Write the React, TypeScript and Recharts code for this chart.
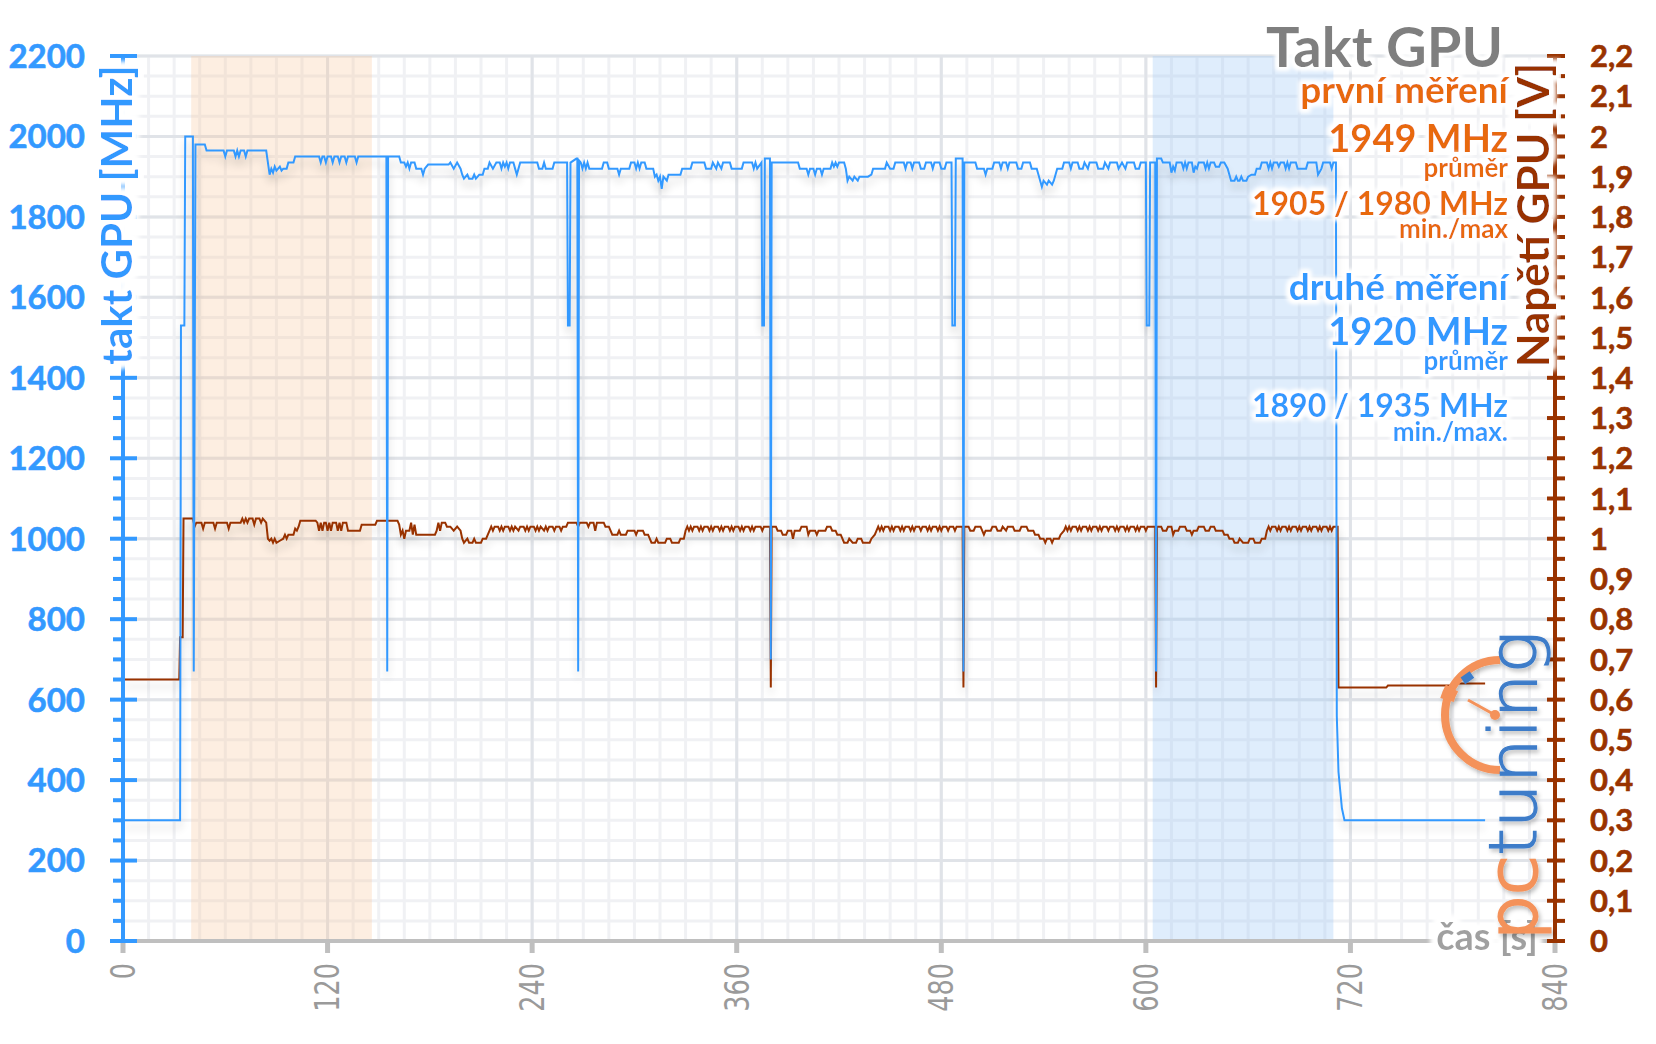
import React from 'react';
import { LineChart, Line, XAxis, YAxis, CartesianGrid, ReferenceArea } from 'recharts';

const W = 1656;
const H = 1044;
const BLUE = '#3399ff';
const BROWN = '#993300';
const ORANGE = '#e8690c';
const TITLE_GRAY = '#7f7f7f';
const AXIS_GRAY = '#bfbfbf';
const LABEL_GRAY = '#9a9a9a';
const FONT = "Lato, 'Open Sans', sans-serif";

// ---- axis ticks ----
const timeTicks = [0, 120, 240, 360, 480, 600, 720, 840];
const clockMajorTicks = [0, 200, 400, 600, 800, 1000, 1200, 1400, 1600, 1800, 2000, 2200];
const voltMajorTicks = [0, 0.1, 0.2, 0.3, 0.4, 0.5, 0.6, 0.7, 0.8, 0.9, 1, 1.1, 1.2, 1.3, 1.4, 1.5, 1.6, 1.7, 1.8, 1.9, 2, 2.1, 2.2];

// ---- shaded measurement windows [start s, end s] ----
const firstRun = [40, 146];
const secondRun = [604, 710];

// ---- GPU clock [s, MHz] ----
const clockPoints: [number, number][] = [
  [0, 300], [33.5, 300], [34, 1530], [36, 1530], [36.5, 2000], [41, 2000], [41.5, 670], [42.5, 1980], [48, 1980], [49, 1965],
  [59, 1965], [60, 1950], [61, 1965], [65, 1965], [66, 1950], [67, 1965], [68, 1950], [69, 1965], [71, 1965], [72, 1950], [73, 1965],
  [84, 1965], [85, 1935], [86, 1905], [87, 1920], [88, 1910], [89, 1925], [90, 1915], [92, 1925], [93, 1915], [94, 1920], [96, 1920],
  [97, 1935], [100, 1935], [101, 1950], [115, 1950], [116, 1935], [117, 1950], [118, 1950], [119, 1935], [120, 1950], [122, 1950],
  [123, 1935], [124, 1950], [126, 1950], [127, 1935], [128, 1950], [130, 1950], [131, 1935], [132, 1950], [136, 1950], [137, 1935],
  [138, 1950], [154.5, 1950], [155, 670], [155.5, 1950], [162, 1950], [163, 1935], [165, 1935], [166, 1925], [167, 1935], [168, 1920],
  [169, 1935], [171, 1935], [172, 1920], [175, 1920], [176, 1905], [177, 1920], [179, 1930], [191, 1930], [192, 1935], [194, 1920],
  [196, 1935], [198, 1920], [199, 1905], [200, 1895], [202, 1905], [203, 1895], [205, 1895], [206, 1905], [207, 1895], [209, 1905],
  [211, 1905], [212, 1920], [214, 1920], [215, 1935], [217, 1920], [219, 1935], [221, 1935], [222, 1920], [223, 1935], [224, 1925],
  [225, 1935], [226, 1920], [227, 1935], [229, 1935], [230, 1920], [231, 1905], [232, 1920], [233, 1935], [243, 1935], [244, 1920],
  [246, 1920], [247, 1935], [248, 1920], [252, 1920], [253, 1935], [260.5, 1935], [261, 1530], [262, 1530], [262.5, 1935], [266, 1945],
  [266.5, 1945], [267, 670], [267.5, 1940], [268.5, 1935], [269.5, 1920], [270.5, 1935], [271.5, 1920], [272.5, 1935], [273.5, 1920],
  [281, 1920], [282, 1935], [284, 1935], [285, 1920], [290, 1920], [291, 1905], [292, 1920], [297, 1920], [298, 1935], [300, 1935],
  [301, 1920], [302, 1935], [303, 1920], [304, 1935], [306, 1935], [307, 1920], [311, 1920], [312, 1900], [313, 1905], [314, 1890],
  [315, 1900], [316, 1870], [317, 1900], [319, 1890], [320, 1905], [327, 1905], [328, 1920], [333, 1920], [334, 1935], [341, 1935],
  [342, 1920], [345, 1920], [346, 1935], [348, 1920], [349, 1935], [351, 1920], [352, 1935], [356, 1935], [357, 1920], [363, 1920],
  [364, 1935], [369, 1935], [370, 1920], [371, 1935], [372, 1920], [374.5, 1935], [375, 1530], [376, 1530], [376.5, 1945], [379.5, 1945],
  [380, 700], [380.5, 1935], [396, 1935], [397, 1920], [401, 1920], [402, 1905], [403, 1920], [405, 1920], [406, 1905], [407, 1920],
  [409, 1920], [410, 1905], [411, 1920], [415, 1920], [416, 1935], [417, 1925], [418, 1935], [419, 1925], [420, 1935], [423, 1935],
  [424, 1920], [425, 1890], [426, 1900], [428, 1890], [429, 1900], [431, 1890], [432, 1900], [437, 1900], [439, 1905], [440, 1920],
  [447, 1920], [448, 1935], [450, 1920], [452, 1920], [453, 1935], [458, 1935], [459, 1920], [460, 1935], [462, 1935], [463, 1920],
  [464, 1935], [467, 1935], [468, 1920], [470, 1920], [471, 1935], [474, 1935], [475, 1920], [476, 1935], [479, 1935], [480, 1920],
  [482, 1920], [483, 1935], [486, 1935], [486.5, 1530], [488, 1530], [488.5, 1945], [492.5, 1945], [493, 670], [493.5, 1935], [500, 1935],
  [501, 1920], [505, 1920], [506, 1905], [507, 1920], [510, 1920], [511, 1935], [514, 1935], [515, 1920], [516, 1935], [518, 1935],
  [519, 1920], [520, 1935], [524, 1935], [525, 1920], [527, 1920], [528, 1935], [532, 1935], [533, 1920], [536, 1920], [537, 1905],
  [538, 1890], [539, 1875], [540, 1890], [542, 1880], [543, 1890], [545, 1880], [546, 1890], [547, 1905], [548, 1920], [551, 1920],
  [552, 1935], [555, 1935], [556, 1920], [557, 1935], [560, 1935], [561, 1920], [563, 1920], [564, 1935], [566, 1920], [567, 1935],
  [571, 1935], [572, 1920], [575, 1920], [576, 1935], [578, 1920], [579, 1935], [583, 1935], [584, 1920], [586, 1935], [588, 1920],
  [589, 1935], [593, 1935], [594, 1920], [596, 1920], [597, 1935], [600, 1935], [600.5, 1530], [602, 1530], [602.5, 1935], [605.5, 1935],
  [606, 670], [606.5, 1945], [609, 1945], [610, 1935], [614, 1935], [615, 1910], [616, 1925], [617, 1915], [618, 1935], [621, 1935],
  [622, 1920], [623, 1935], [624, 1920], [625, 1935], [627, 1935], [628, 1910], [629, 1925], [630, 1920], [631, 1935], [634, 1935],
  [635, 1920], [636, 1935], [637, 1920], [638, 1935], [640, 1935], [641, 1925], [643, 1925], [644, 1935], [646, 1935], [648, 1920],
  [649, 1905], [650, 1890], [652, 1890], [653, 1900], [654, 1890], [655, 1890], [656, 1900], [657, 1890], [659, 1890], [660, 1900],
  [662, 1905], [664, 1905], [665, 1920], [667, 1920], [668, 1935], [671, 1935], [672, 1920], [673, 1935], [674, 1920], [675, 1935],
  [677, 1935], [678, 1925], [679, 1935], [681, 1935], [682, 1920], [683, 1935], [684, 1920], [685, 1935], [688, 1935], [689, 1920],
  [694, 1920], [695, 1935], [700, 1935], [701, 1905], [703, 1920], [704, 1935], [708, 1935], [709, 1920], [710, 1935], [711.5, 1935],
  [712, 560], [713, 420], [715, 330], [716.5, 300], [799, 300],
];

// ---- GPU voltage [s, V] ----
const voltPoints: [number, number][] = [
  [0, 0.65], [33, 0.65], [33.5, 0.755], [35, 0.755], [35.5, 1.05], [41, 1.05], [42, 1.03], [43, 1.04], [46, 1.04], [47, 1.025],
  [48, 1.04], [53, 1.04], [54, 1.025], [55, 1.04], [61, 1.04], [62, 1.025], [63, 1.04], [69, 1.04], [70, 1.05], [71, 1.04], [72, 1.05],
  [73, 1.04], [74, 1.05], [76, 1.05], [77, 1.035], [78, 1.05], [80, 1.05], [81, 1.04], [82, 1.05], [84, 1.04], [85, 1.0], [86, 0.995],
  [87, 1.0], [88, 0.99], [89, 1.0], [90, 0.99], [92, 0.995], [94, 1.0], [95, 1.01], [96, 1.0], [97, 1.01], [100, 1.01], [101, 1.025],
  [102, 1.02], [103, 1.03], [104, 1.045], [113, 1.045], [114, 1.04], [115, 1.02], [116, 1.04], [117, 1.02], [118, 1.04], [119, 1.04],
  [120, 1.02], [121, 1.04], [122, 1.02], [123, 1.04], [125, 1.04], [126, 1.02], [127, 1.04], [128, 1.02], [129, 1.04], [131, 1.04],
  [132, 1.02], [139, 1.02], [140, 1.035], [148, 1.035], [149, 1.045], [161, 1.045], [162, 1.035], [163, 1.01], [164, 1.02], [165, 1.0],
  [166, 1.02], [168, 1.02], [169, 1.04], [170, 1.01], [171, 1.035], [172, 1.01], [183, 1.01], [184, 1.02], [185, 1.04], [186, 1.02],
  [187, 1.04], [189, 1.04], [190, 1.03], [192, 1.03], [194, 1.02], [196, 1.03], [198, 1.02], [199, 1.0], [200, 0.99], [202, 1.0],
  [203, 0.99], [205, 0.99], [206, 1.0], [207, 0.99], [210, 0.99], [211, 1.0], [213, 1.0], [214, 1.01], [215, 1.02], [216, 1.03],
  [217, 1.02], [218, 1.03], [220, 1.03], [221, 1.02], [222, 1.03], [223, 1.02], [224, 1.03], [226, 1.03], [227, 1.02], [228, 1.03],
  [229, 1.02], [230, 1.03], [232, 1.02], [233, 1.03], [235, 1.03], [236, 1.02], [237, 1.03], [238, 1.02], [239, 1.03], [241, 1.03],
  [242, 1.02], [243, 1.03], [244, 1.02], [245, 1.03], [247, 1.02], [248, 1.03], [249, 1.02], [250, 1.03], [252, 1.03], [253, 1.02],
  [254, 1.03], [256, 1.03], [257, 1.02], [258, 1.03], [260, 1.03], [261, 1.04], [266, 1.04], [267, 1.03], [268, 1.04], [272, 1.04],
  [273, 1.03], [274, 1.04], [276, 1.04], [277, 1.02], [278, 1.04], [282, 1.04], [283, 1.03], [285, 1.03], [286, 1.02], [287, 1.01],
  [290, 1.01], [291, 1.02], [292, 1.01], [295, 1.01], [296, 1.02], [300, 1.02], [301, 1.01], [302, 1.02], [305, 1.02], [306, 1.01],
  [308, 1.01], [309, 1.0], [310, 0.99], [312, 0.99], [313, 1.0], [314, 0.99], [318, 0.99], [319, 1.0], [321, 1.0], [322, 0.99],
  [326, 0.99], [327, 1.0], [329, 1.0], [330, 1.02], [331, 1.03], [332, 1.02], [333, 1.03], [334, 1.02], [335, 1.03], [337, 1.03],
  [338, 1.02], [339, 1.03], [340, 1.02], [341, 1.03], [343, 1.03], [344, 1.02], [345, 1.03], [346, 1.02], [347, 1.03], [349, 1.03],
  [350, 1.02], [351, 1.03], [352, 1.02], [353, 1.03], [355, 1.03], [356, 1.02], [357, 1.03], [358, 1.02], [359, 1.03], [361, 1.03],
  [362, 1.02], [363, 1.03], [364, 1.02], [365, 1.03], [367, 1.03], [368, 1.02], [369, 1.03], [370, 1.02], [371, 1.03], [374, 1.03],
  [375, 1.02], [376, 1.03], [379.5, 1.03], [380, 0.63], [380.5, 1.03], [383, 1.03], [384, 1.02], [386, 1.02], [387, 1.01], [389, 1.01],
  [390, 1.02], [392, 1.02], [393, 1.0], [394, 1.02], [397, 1.02], [398, 1.03], [401, 1.03], [402, 1.01], [403, 1.02], [406, 1.02],
  [407, 1.01], [408, 1.02], [412, 1.02], [413, 1.03], [415, 1.03], [416, 1.02], [418, 1.02], [419, 1.01], [421, 1.01], [422, 1.0],
  [423, 0.99], [425, 0.99], [426, 1.0], [428, 0.99], [430, 0.99], [431, 1.0], [433, 1.0], [434, 0.99], [438, 0.99], [439, 1.0],
  [441, 1.01], [442, 1.02], [443, 1.03], [444, 1.02], [445, 1.03], [446, 1.02], [447, 1.03], [449, 1.03], [450, 1.02], [451, 1.03],
  [452, 1.02], [453, 1.03], [455, 1.03], [456, 1.02], [457, 1.03], [458, 1.02], [459, 1.03], [461, 1.03], [462, 1.02], [463, 1.03],
  [464, 1.02], [465, 1.03], [467, 1.03], [468, 1.02], [469, 1.03], [471, 1.03], [472, 1.02], [473, 1.03], [474, 1.02], [475, 1.03],
  [477, 1.03], [478, 1.02], [479, 1.03], [480, 1.02], [481, 1.03], [483, 1.03], [484, 1.02], [485, 1.03], [487, 1.03], [488, 1.02],
  [489, 1.03], [492.5, 1.03], [493, 0.63], [493.5, 1.03], [496, 1.03], [497, 1.02], [499, 1.02], [500, 1.03], [503, 1.03], [504, 1.02],
  [505, 1.01], [506, 1.02], [509, 1.02], [510, 1.03], [512, 1.03], [513, 1.02], [515, 1.02], [516, 1.03], [518, 1.02], [519, 1.03],
  [522, 1.03], [523, 1.02], [526, 1.02], [527, 1.03], [530, 1.03], [531, 1.02], [534, 1.02], [535, 1.01], [537, 1.01], [538, 1.0],
  [540, 1.0], [541, 0.99], [542, 1.0], [544, 1.0], [545, 0.99], [546, 1.0], [549, 1.0], [550, 1.01], [552, 1.02], [553, 1.03],
  [554, 1.02], [555, 1.03], [556, 1.02], [557, 1.03], [559, 1.03], [560, 1.02], [561, 1.03], [562, 1.02], [563, 1.03], [565, 1.03],
  [566, 1.02], [567, 1.03], [568, 1.02], [569, 1.03], [571, 1.03], [572, 1.02], [573, 1.03], [574, 1.02], [575, 1.03], [577, 1.03],
  [578, 1.02], [579, 1.03], [581, 1.03], [582, 1.02], [583, 1.03], [584, 1.02], [585, 1.03], [587, 1.03], [588, 1.02], [589, 1.03],
  [590, 1.02], [591, 1.03], [593, 1.03], [594, 1.02], [595, 1.03], [596, 1.02], [597, 1.03], [599, 1.03], [600, 1.02], [601, 1.03],
  [605.5, 1.03], [606, 0.63], [606.5, 1.03], [609, 1.03], [610, 1.02], [612, 1.02], [613, 1.03], [615, 1.03], [616, 1.01], [617, 1.02],
  [619, 1.02], [620, 1.03], [623, 1.03], [624, 1.02], [626, 1.02], [627, 1.01], [628, 1.02], [630, 1.02], [631, 1.03], [634, 1.03],
  [635, 1.02], [637, 1.02], [638, 1.03], [640, 1.03], [641, 1.02], [645, 1.02], [646, 1.01], [648, 1.01], [649, 1.0], [651, 1.0],
  [652, 0.99], [654, 0.99], [655, 1.0], [657, 0.99], [660, 0.99], [661, 1.0], [663, 1.0], [664, 0.99], [667, 0.99], [668, 1.0],
  [670, 1.0], [671, 1.02], [672, 1.03], [673, 1.02], [674, 1.03], [676, 1.03], [677, 1.02], [678, 1.03], [679, 1.02], [680, 1.03],
  [682, 1.03], [683, 1.02], [684, 1.03], [685, 1.02], [686, 1.03], [688, 1.03], [689, 1.02], [690, 1.03], [691, 1.02], [692, 1.03],
  [694, 1.03], [695, 1.02], [696, 1.03], [697, 1.02], [698, 1.03], [700, 1.03], [701, 1.02], [702, 1.03], [703, 1.02], [704, 1.03],
  [706, 1.03], [707, 1.02], [708, 1.03], [709, 1.02], [710, 1.03], [712.5, 1.03], [713, 0.63], [741, 0.63], [742, 0.635], [781, 0.635],
  [782, 0.64], [799, 0.64],
];

const clockData = clockPoints.map(([t, v]) => ({ t, mhz: v }));
const voltData = voltPoints.map(([t, v]) => ({ t, volt: v }));

// subdivide tick arrays for minor ticks / grid
const subdivide = (arr: number[], parts: number) => {
  const out: number[] = [];
  for (let i = 0; i < arr.length - 1; i++) {
    const step = (arr[i + 1] - arr[i]) / parts;
    for (let k = 0; k < parts; k++) out.push(Math.round((arr[i] + step * k) * 1000) / 1000);
  }
  out.push(arr[arr.length - 1]);
  return out;
};
const clockAllTicks = subdivide(clockMajorTicks, 4);
const voltAllTicks = subdivide(voltMajorTicks, 2);
const timeMinorGrid = subdivide(timeTicks, 8);

// layout
const PLOT_LEFT = 123;
const PLOT_RIGHT = 1555;
const PLOT_TOP = 56;
const PLOT_BOTTOM = 941;
const AXIS_W = 60;
const AXIS_H = 30;

const isMajorClock = (v: number) => Math.abs(v % 200) < 1e-6;
const isMajorVolt = (v: number) => Math.abs(v * 10 - Math.round(v * 10)) < 1e-6;
const fmtVolt = (v: number) => String(Math.round(v * 10) / 10).replace('.', ',');

const LeftTick = (props: any) => {
  const { y, payload } = props;
  const v = payload.value as number;
  const major = isMajorClock(v);
  return (
    <g>
      <line x1={major ? 110 : 113} x2={major ? 137 : PLOT_LEFT} y1={y} y2={y} stroke={BLUE} strokeWidth={4} />
      {major && (
        <text x={85} y={y} dy="0.36em" textAnchor="end" fontFamily={FONT} fontWeight={700} fontSize={33} fill={BLUE}
          stroke={BLUE} strokeWidth={0.6}>
          {v}
        </text>
      )}
    </g>
  );
};

const RightTick = (props: any) => {
  const { y, payload } = props;
  const v = payload.value as number;
  const major = isMajorVolt(v);
  return (
    <g>
      <line x1={major ? PLOT_RIGHT - 8 : PLOT_RIGHT} x2={PLOT_RIGHT + 10} y1={y} y2={y} stroke={BROWN} strokeWidth={4} />
      {major && (
        <text x={1590} y={y} dy="0.36em" textAnchor="start" fontFamily={FONT} fontWeight={700} fontSize={31} fill={BROWN}
          stroke={BROWN} strokeWidth={0.6}>
          {fmtVolt(v)}
        </text>
      )}
    </g>
  );
};

const BottomTick = (props: any) => {
  const { x, payload } = props;
  return (
    <g>
      <line x1={x} x2={x} y1={PLOT_BOTTOM + 2} y2={PLOT_BOTTOM + 12} stroke={AXIS_GRAY} strokeWidth={5} />
      <text
        transform={`translate(${x},963) rotate(-90) scale(0.86,1)`}
        textAnchor="end"
        dy="0.36em"
        fontFamily="'DejaVu Sans Condensed', 'DejaVu Sans', sans-serif"
        fontSize={33}
        fill={LABEL_GRAY}
      >
        {payload.value}
      </text>
    </g>
  );
};

const Glow = ({ id, r = 3, blur = 2 }: { id: string; r?: number; blur?: number }) => (
  <filter id={id} x="-10%" y="-30%" width="120%" height="160%">
    <feMorphology in="SourceAlpha" operator="dilate" radius={r} result="d" />
    <feGaussianBlur in="d" stdDeviation={blur} result="b" />
    <feFlood floodColor="#ffffff" result="f" />
    <feComposite in="f" in2="b" operator="in" result="g" />
    <feMerge>
      <feMergeNode in="g" />
      <feMergeNode in="g" />
      <feMergeNode in="SourceGraphic" />
    </feMerge>
  </filter>
);

const RT = (p: { y: number; size: number; color: string; children: React.ReactNode; x?: number }) => (
  <text x={p.x ?? 1508} y={p.y} textAnchor="end" fontFamily={FONT} fontWeight={700} fontSize={p.size} fill={p.color} filter="url(#glow)">
    {p.children}
  </text>
);

const LOGO_ORANGE = '#f4925a';
const LOGO_BLUE = '#3d7cc9';

const Overlay = () => (
  <svg width={W} height={H} style={{ position: 'absolute', left: 0, top: 0, pointerEvents: 'none' }}>
    <defs>
      <Glow id="glow" r={3} blur={2} />
      <filter id="titleGlow" x="-30%" y="-5%" width="160%" height="110%">
        <feMorphology in="SourceAlpha" operator="dilate" radius={6} result="d" />
        <feGaussianBlur in="d" stdDeviation={2.5} result="b" />
        <feFlood floodColor="#ffffff" result="f" />
        <feComposite in="f" in2="b" operator="in" result="g" />
        <feMerge>
          <feMergeNode in="g" />
          <feMergeNode in="g" />
          <feMergeNode in="SourceGraphic" />
        </feMerge>
      </filter>
      <filter id="logoShadow" x="-20%" y="-20%" width="140%" height="140%">
        <feDropShadow dx={2} dy={3} stdDeviation={2} floodColor="#000" floodOpacity={0.25} />
      </filter>
    </defs>

    {/* axis titles */}
    <text transform="translate(132,215) rotate(-90)" textAnchor="middle" fontFamily={FONT} fontWeight={700} fontSize={42} fill={BLUE} filter="url(#titleGlow)">
      takt GPU [MHz]
    </text>
    <text transform="translate(1549,215) rotate(-90)" textAnchor="middle" fontFamily={FONT} fontWeight={700} fontSize={44} fill={BROWN} filter="url(#titleGlow)">
      Napětí GPU [V]
    </text>
    <text x={1538} y={950} textAnchor="end" fontFamily={FONT} fontWeight={700} fontSize={38} fill="#a0a0a0" filter="url(#titleGlow)">
      čas [s]
    </text>

    {/* title + legend texts */}
    <RT x={1503} y={67} size={56} color={TITLE_GRAY}>Takt GPU</RT>
    <RT y={103} size={37} color={ORANGE}>první měření</RT>
    <RT y={152} size={38} color={ORANGE}>1949 MHz</RT>
    <RT y={177} size={26} color={ORANGE}>průměr</RT>
    <RT y={215} size={32} color={ORANGE}>1905 / 1980 MHz</RT>
    <RT y={238} size={26} color={ORANGE}>min./max</RT>
    <RT y={300} size={37} color={BLUE}>druhé měření</RT>
    <RT y={345} size={38} color={BLUE}>1920 MHz</RT>
    <RT y={370} size={26} color={BLUE}>průměr</RT>
    <RT y={417} size={32} color={BLUE}>1890 / 1935 MHz</RT>
    <RT y={441} size={26} color={BLUE}>min./max.</RT>

    {/* pctuning logo */}
    <g filter="url(#logoShadow)">
      <path d="M 1500 660 A 55 55 0 0 0 1500 770" fill="none" stroke={LOGO_ORANGE} strokeWidth={8} />
      <path d="M 1447 700 A 55 55 0 0 1 1452 688" fill="none" stroke={LOGO_ORANGE} strokeWidth={14} />
      <line x1={1468} y1={700} x2={1495} y2={715} stroke={LOGO_ORANGE} strokeWidth={3} />
      <circle cx={1495} cy={715} r={5} fill={LOGO_ORANGE} />
      <rect x={1462} y={674} width={11} height={8} fill={LOGO_BLUE} transform="rotate(-35 1467 678)" />
      <text
        transform="translate(1536,940) rotate(-90)"
        fontFamily="'DejaVu Sans', sans-serif"
        fontWeight={200}
        fontSize={66}
        textLength={309}
        lengthAdjust="spacingAndGlyphs"
      >
        <tspan fill={LOGO_ORANGE} stroke={LOGO_ORANGE} strokeWidth={3}>pc</tspan>
        <tspan fill={LOGO_BLUE} stroke={LOGO_BLUE} strokeWidth={1.2}>tuning</tspan>
      </text>
    </g>
  </svg>
);

export default function App() {
  return (
    <div style={{ position: 'absolute', left: 0, top: 0, width: W, height: H, background: '#ffffff' }}>
      <LineChart
        width={W}
        height={H}
        margin={{
          top: PLOT_TOP,
          left: PLOT_LEFT - AXIS_W,
          right: W - PLOT_RIGHT - AXIS_W,
          bottom: H - PLOT_BOTTOM - AXIS_H,
        }}
      >
        <defs>
          <filter id="lineShadow" x="-2%" y="-10%" width="104%" height="130%">
            <feGaussianBlur in="SourceAlpha" stdDeviation={4} />
            <feOffset dx={0} dy={7} result="ob" />
            <feComponentTransfer>
              <feFuncA type="linear" slope={0.18} />
            </feComponentTransfer>
            <feMerge>
              <feMergeNode />
              <feMergeNode in="SourceGraphic" />
            </feMerge>
          </filter>
        </defs>
        <CartesianGrid
          horizontalValues={clockAllTicks}
          verticalValues={timeMinorGrid}
          stroke="#f0f1f4"
          strokeWidth={3}
        />
        <CartesianGrid
          horizontalValues={clockMajorTicks}
          verticalValues={timeTicks}
          stroke="#e0e3e8"
          strokeWidth={3}
        />
        <ReferenceArea x1={firstRun[0]} x2={firstRun[1]} fill="#f9c89a" fillOpacity={0.3} stroke="none" />
        <ReferenceArea x1={secondRun[0]} x2={secondRun[1]} fill="#9cc8f7" fillOpacity={0.32} stroke="none" />
        <XAxis
          type="number"
          dataKey="t"
          domain={[0, 840]}
          ticks={timeTicks}
          interval={0}
          allowDataOverflow
          height={AXIS_H}
          axisLine={{ stroke: AXIS_GRAY, strokeWidth: 4 }}
          tickLine={false}
          tick={<BottomTick />}
        />
        <YAxis
          type="number"
          domain={[0, 2200]}
          ticks={clockAllTicks}
          interval={0}
          allowDataOverflow
          width={AXIS_W}
          axisLine={{ stroke: BLUE, strokeWidth: 4 }}
          tickLine={false}
          tick={<LeftTick />}
        />
        <YAxis
          yAxisId="v"
          orientation="right"
          type="number"
          domain={[0, 2.2]}
          ticks={voltAllTicks}
          interval={0}
          allowDataOverflow
          width={AXIS_W}
          axisLine={{ stroke: BROWN, strokeWidth: 4 }}
          tickLine={false}
          tick={<RightTick />}
        />
        <Line
          yAxisId="v"
          data={voltData}
          dataKey="volt"
          type="linear"
          stroke={BROWN}
          strokeWidth={2}
          dot={false}
          activeDot={false}
          isAnimationActive={false}
          filter="url(#lineShadow)"
        />
        <Line
          data={clockData}
          dataKey="mhz"
          type="linear"
          stroke={BLUE}
          strokeWidth={2}
          dot={false}
          activeDot={false}
          isAnimationActive={false}
          filter="url(#lineShadow)"
        />
      </LineChart>
      <Overlay />
    </div>
  );
}
